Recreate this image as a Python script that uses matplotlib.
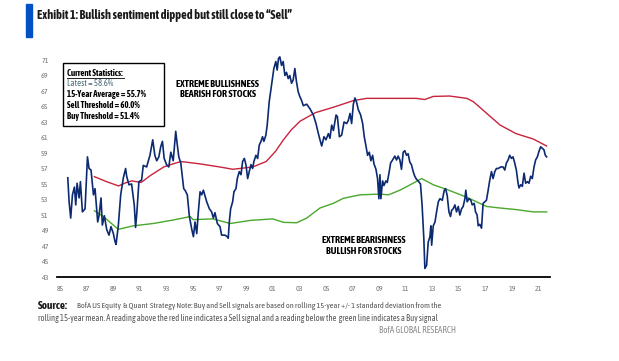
import matplotlib
matplotlib.use("Agg")
import matplotlib.pyplot as plt

narrow = ["Asap Condensed", "Archivo Narrow", "Liberation Sans"]

# bull/bear ratio
years = [1985.58, 1985.68, 1985.80, 1985.93, 1986.08, 1986.18, 1986.28, 1986.43, 1986.53, 1986.68,
         1986.88, 1987.06, 1987.18, 1987.33, 1987.51, 1987.63, 1987.83, 1987.93, 1988.08, 1988.18,
         1988.33, 1988.51, 1988.68, 1988.83, 1989.01, 1989.13, 1989.21, 1989.38, 1989.56, 1989.76,
         1989.93, 1990.01, 1990.18, 1990.38, 1990.58, 1990.68, 1990.78, 1990.93, 1991.13, 1991.26,
         1991.51, 1991.76, 1991.97, 1992.13, 1992.27, 1992.43, 1992.57, 1992.70, 1992.83, 1993.01,
         1993.18, 1993.33, 1993.51, 1993.70, 1993.80, 1993.93, 1994.08, 1994.30, 1994.40, 1994.57,
         1994.72, 1994.90, 1995.03, 1995.15, 1995.28, 1995.40, 1995.53, 1995.65, 1995.78, 1995.90,
         1996.03, 1996.23, 1996.40, 1996.53, 1996.65, 1996.83, 1997.03, 1997.15, 1997.40, 1997.58,
         1997.65, 1997.73, 1997.83, 1997.98, 1998.08, 1998.23, 1998.33, 1998.48, 1998.61, 1998.73,
         1998.86, 1998.98, 1999.11, 1999.23, 1999.36, 1999.48, 1999.58, 1999.73, 1999.86, 1999.98,
         2000.11, 2000.23, 2000.33, 2000.48, 2000.58, 2000.73, 2000.91, 2001.08, 2001.23, 2001.33,
         2001.43, 2001.53, 2001.66, 2001.78, 2001.91, 2002.03, 2002.16, 2002.28, 2002.41, 2002.53,
         2002.66, 2002.78, 2002.91, 2003.03, 2003.16, 2003.30, 2003.55, 2003.80, 2004.05, 2004.25,
         2004.43, 2004.55, 2004.68, 2004.85, 2005.00, 2005.18, 2005.30, 2005.43, 2005.56, 2005.76,
         2005.86, 2006.01, 2006.18, 2006.36, 2006.56, 2006.68, 2006.81, 2006.93, 2007.06, 2007.18,
         2007.31, 2007.43, 2007.61, 2007.76, 2007.88, 2008.01, 2008.13, 2008.26, 2008.38, 2008.51,
         2008.61, 2008.76, 2008.88, 2008.98, 2009.06, 2009.13, 2009.26, 2009.36, 2009.51, 2009.61,
         2009.76, 2009.86, 2010.01, 2010.18, 2010.31, 2010.43, 2010.56, 2010.68, 2010.81, 2010.93,
         2011.06, 2011.18, 2011.31, 2011.43, 2011.56, 2011.68, 2011.81, 2011.93, 2012.11, 2012.23,
         2012.36, 2012.44, 2012.57, 2012.69, 2012.82, 2012.89, 2012.95, 2013.07, 2013.20, 2013.32,
         2013.45, 2013.57, 2013.75, 2013.90, 2014.00, 2014.12, 2014.25, 2014.37, 2014.45, 2014.57,
         2014.70, 2014.82, 2014.95, 2015.07, 2015.20, 2015.32, 2015.45, 2015.52, 2015.62, 2015.75,
         2015.90, 2016.00, 2016.15, 2016.25, 2016.37, 2016.45, 2016.57, 2016.70, 2016.82, 2016.95,
         2017.07, 2017.20, 2017.32, 2017.45, 2017.57, 2017.70, 2017.82, 2017.95, 2018.15, 2018.32,
         2018.45, 2018.57, 2018.70, 2018.82, 2018.95, 2019.07, 2019.20, 2019.32, 2019.45, 2019.52,
         2019.65, 2019.77, 2019.90, 2020.02, 2020.15, 2020.27, 2020.40, 2020.52, 2020.65, 2020.77,
         2020.90, 2021.02, 2021.15, 2021.27, 2021.40, 2021.50, 2021.60]
sentiment = [55.8, 52.7, 50.6, 53.6, 54.6, 52.3, 55.1, 53.2, 55.3, 51.4,
             51.8, 58.5, 57.0, 56.8, 53.6, 54.4, 50.1, 50.9, 53.2, 49.7,
             50.9, 49.1, 48.4, 49.5, 48.6, 47.6, 47.2, 49.6, 53.6, 55.8,
             57.0, 56.0, 54.9, 55.0, 52.3, 49.4, 51.4, 55.3, 55.5, 57.4,
             57.2, 58.7, 60.7, 58.7, 58.0, 58.5, 59.8, 60.5, 58.3, 57.5,
             57.2, 59.1, 58.0, 61.8, 60.3, 58.5, 57.7, 54.4, 54.2, 53.6,
             50.9, 49.2, 48.2, 50.1, 48.6, 51.4, 54.0, 53.6, 54.2, 53.5,
             52.7, 51.8, 51.4, 50.6, 51.3, 49.9, 49.5, 48.4, 48.4, 48.2,
             48.0, 50.1, 51.8, 52.7, 54.0, 54.4, 55.7, 56.6, 56.2, 57.9,
             58.3, 57.5, 55.7, 56.6, 57.5, 57.0, 57.9, 58.7, 58.3, 60.0,
             60.5, 61.1, 60.5, 61.3, 62.6, 65.6, 67.8, 69.9, 70.8, 69.7,
             71.2, 71.4, 70.3, 70.8, 69.0, 69.4, 68.6, 69.0, 68.0, 68.4,
             69.9, 68.2, 66.9, 66.3, 65.8, 65.1, 65.3, 64.7, 63.9, 62.8,
             61.5, 60.7, 59.9, 61.1, 60.7, 61.5, 60.9, 62.6, 61.9, 63.9,
             63.7, 61.1, 61.3, 63.0, 62.8, 63.2, 64.1, 62.8, 65.3, 66.1,
             65.5, 64.6, 63.9, 62.8, 61.1, 59.9, 58.7, 59.1, 58.0, 58.7,
             57.6, 56.9, 55.7, 53.1, 56.2, 53.1, 55.4, 54.8, 55.4, 55.2,
             56.6, 57.7, 58.1, 58.6, 58.1, 58.6, 58.1, 56.9, 59.1, 59.3,
             58.7, 58.9, 57.8, 57.5, 56.6, 56.0, 55.6, 55.4, 55.0, 52.3,
             48.0, 44.1, 44.5, 47.5, 48.2, 49.6, 47.1, 49.6, 50.1, 51.4,
             52.7, 53.1, 52.9, 54.2, 54.4, 53.5, 51.4, 50.8, 51.6, 51.8,
             52.3, 51.4, 52.1, 51.0, 51.8, 52.1, 53.1, 54.2, 52.7, 53.1,
             52.9, 52.3, 52.5, 51.4, 51.0, 49.6, 49.8, 49.3, 52.5, 52.7,
             52.9, 54.2, 55.5, 56.6, 55.7, 56.6, 57.0, 57.0, 57.2, 57.2,
             56.8, 57.7, 58.1, 58.7, 58.3, 58.5, 57.7, 56.8, 55.1, 54.5,
             54.9, 54.7, 56.4, 55.1, 55.3, 55.1, 56.0, 55.7, 57.2, 58.1,
             58.5, 59.2, 59.8, 59.6, 59.4, 58.7, 58.5]

sell_years = [1987.58, 1988.5, 1989.4, 1990.0, 1990.4, 1991.1, 1991.8, 1992.8, 1993.5, 1994.1,
              1995.5, 1997.0, 1998.0, 1999.5, 2000.5, 2001.2, 2001.8, 2002.4, 2003.05, 2004.2,
              2005.55, 2007.05, 2008.06, 2010.06, 2011.8, 2012.44, 2013.07, 2014.3, 2015.6, 2016.1,
              2017.1, 2018.1, 2019.3, 2020.6, 2021.6]
sell = [55.95, 55.3, 54.75, 55.2, 55.4, 55.2, 56.1, 57.2, 57.6, 57.9,
        57.6, 57.2, 56.9, 57.2, 57.9, 59.2, 60.7, 62.0, 63.1, 64.2,
        64.9, 65.75, 66.05, 66.05, 66.05, 65.9, 66.3, 66.35, 66.05, 65.6,
        64.1, 62.6, 61.5, 60.8, 59.9]

buy_years = [1987.58, 1988.26, 1989.38, 1990.5, 1992.0, 1993.5, 1994.8, 1995.0, 1996.5, 1997.8,
             1999.3, 2001.0, 2001.8, 2002.8, 2003.55, 2004.55, 2005.55, 2006.3, 2007.56, 2009.06,
             2009.7, 2010.56, 2011.07, 2012.2, 2013.07, 2014.08, 2015.58, 2017.08, 2018.1, 2019.3,
             2020.6, 2021.6]
buy = [51.55, 50.8, 49.15, 49.6, 49.9, 50.35, 50.8, 50.4, 50.5, 49.9,
       50.3, 50.5, 50.05, 50.0, 50.6, 51.9, 52.5, 53.15, 53.6, 53.7,
       53.6, 54.2, 54.65, 55.7, 54.9, 54.3, 53.3, 52.1, 51.9, 51.7,
       51.4, 51.4]

stats = ["15-Year Average = 55.7%", "Sell Threshold = 60.0%", "Buy Threshold = 51.4%"]
latest = "Latest = 58.6%"

fig = plt.figure(figsize=(6.19, 3.61), dpi=100)
ax = fig.add_axes([0.0921, 0.2327, 0.7964, 0.614])

ax.plot(sell_years, sell, color="#c8233c", lw=1.0)
ax.plot(buy_years, buy, color="#4aa82a", lw=1.0)
ax.plot(years, sentiment, color="#0c2a72", lw=1.2)

ax.set_xlim(1984.77, 2021.85)
ax.set_ylim(43, 71.6)
ax.set_yticks(range(43, 72, 2))
ax.set_xticks(range(1985, 2022, 2))
ax.set_xticklabels([f"{y % 100:02d}" for y in range(1985, 2022, 2)])
for s in ["top", "right", "left"]:
    ax.spines[s].set_visible(False)
ax.spines["bottom"].set_linewidth(1.3)
ax.tick_params(length=0, labelsize=5.8, labelcolor="#777777", pad=6)
ax.tick_params(axis="x", pad=6)
for lab in ax.get_xticklabels() + ax.get_yticklabels():
    lab.set_family(narrow)

# stats box
box_kw = dict(family=narrow, fontsize=6.3, fontweight="bold", transform=fig.transFigure)
fig.patches.append(plt.Rectangle((62.7 / 619, 1 - 126 / 361), 101.3 / 619, 62.7 / 361,
                                 transform=fig.transFigure, fill=False, ec="black", lw=1.0))
fig.text(66.7 / 619, 1 - 73.3 / 361, "Current Statistics:", va="center", **box_kw)
fig.add_artist(plt.Line2D([66.7 / 619, 124 / 619], [1 - 77.5 / 361] * 2,
                          transform=fig.transFigure, color="black", lw=0.6))
fig.text(66.7 / 619, 1 - 83.5 / 361, latest, va="center", color="#4a6a7a",
         family=narrow, fontsize=6.3, transform=fig.transFigure)
for i, s in enumerate(stats):
    fig.text(66.7 / 619, 1 - (94.3 + 11.2 * i) / 361, s, va="center", **box_kw)

fig.text(217.7 / 619, 1 - 89.3 / 361, "EXTREME BULLISHNESS\nBEARISH FOR STOCKS", ha="center",
         va="center", linespacing=1.2, family=narrow, fontsize=7.1, fontweight="bold")
fig.text(363.3 / 619, 1 - 246 / 361, "EXTREME BEARISHNESS\nBULLISH FOR STOCKS", ha="center",
         va="center", linespacing=1.2, family=narrow, fontsize=7.1, fontweight="bold")

# header
fig.patches.append(plt.Rectangle((26 / 619, 1 - 37 / 361), 6 / 619, 33 / 361,
                                 transform=fig.transFigure, color="#0052c4"))
fig.text(37 / 619, 1 - 15 / 361, "Exhibit 1: Bullish sentiment dipped but still close to \u201cSell\u201d",
         va="center", family=narrow, fontsize=8.8, fontweight="bold", color="#1a1a1a")

# footnote
fig.text(38.3 / 619, 1 - 305.7 / 361, "Source:", va="center", family=narrow, fontsize=8.0,
         fontweight="bold", color="#1a1a1a")
fig.text(77 / 619, 1 - 305.7 / 361,
         "BofA US Equity  & Quant  Strategy Note: Buy and Sell signals are based on rolling 15-year +/- 1 standard deviation from the",
         va="center", family=narrow, fontsize=5.95, color="#555555")
fig.text(38.3 / 619, 1 - 318.3 / 361,
         "rolling 15-year mean. A reading above the red line indicates a Sell signal and a reading below the  green line indicates a Buy signal",
         va="center", family=narrow, fontsize=6.15, color="#555555")
fig.text(456 / 619, 1 - 330.7 / 361, "BofA GLOBAL RESEARCH", ha="right", va="center",
         family=narrow, fontsize=6.4, color="#8a8a8a")

fig.savefig("out.png", dpi=100)
